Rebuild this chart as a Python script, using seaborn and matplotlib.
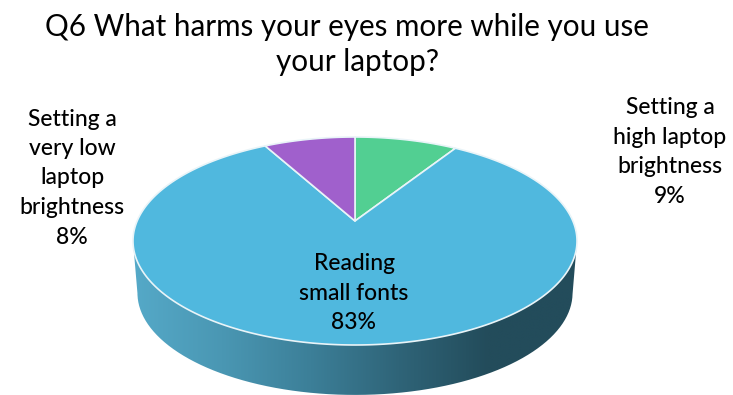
import numpy as np
import matplotlib
matplotlib.use("Agg")
import matplotlib.pyplot as plt
from matplotlib.patches import Polygon, PathPatch
from matplotlib.path import Path
import seaborn as sns

# Survey shares, clockwise from twelve o'clock
categories = ["Setting a\nhigh laptop\nbrightness", "Reading\nsmall fonts", "Setting a\nvery low\nlaptop\nbrightness"]
shares = [9, 83, 8]
wedge_colors = ["#52CF92", "#50B8DE", "#A060CC"]
title_lines = ["Q6 What harms your eyes more while you use", "your laptop?"]

sns.set_theme(style="white")
plt.rcParams["font.family"] = ["Lato", "DejaVu Sans"]

W, H = 733, 395
fig = plt.figure(figsize=(W / 100, H / 100), dpi=100, facecolor="white")
ax = fig.add_axes([0, 0, 1, 1])

# Tilted disc: perspective projection of the unit circle, pixel-based canvas
cx, cy = 355.0, 221.0
top_r, bottom_r, half_w = 84.0, 124.0, 222.0
k = (bottom_r - top_r) / (bottom_r + top_r)
a = top_r * (1 + k)
b = half_w * np.sqrt(1 - k * k)
depth = 52.0
shrink = 0.98


def project(theta):
    """Map clockwise-from-top angles on the disc to canvas coordinates."""
    u, v = np.sin(theta), np.cos(theta)
    d = 1 + k * v
    return cx + b * u / d, cy - a * v / d


# Side wall: front half of the rim swept down to a slightly narrower lower rim
t = np.linspace(0, 2 * np.pi, 720)
x_rim, y_rim = project(t)
centre_x = x_rim.mean()
ell_cy = 0.5 * (y_rim.min() + y_rim.max())
x_low = centre_x + (x_rim - centre_x) * shrink
y_low = ell_cy + (y_rim - ell_cy) * shrink + depth
front = y_rim >= ell_cy - 1
order = np.argsort(x_rim[front])
upper = np.column_stack([x_rim[front][order], y_rim[front][order]])
order2 = np.argsort(-x_low[front])
lower = np.column_stack([x_low[front][order2], y_low[front][order2]])
side_poly = np.vstack([upper, lower, upper[:1]])

wall_cmap = sns.blend_palette(
    ["#55A9C8", "#4A97B3", "#3C7F98", "#2F6478", "#234C5B", "#234C5B"],
    n_colors=256, as_cmap=True,
)
grad = np.linspace(0, 1, 256).reshape(1, -1)
img = ax.imshow(grad, cmap=wall_cmap, aspect="auto",
                extent=[133, 577, H, 200], zorder=1, interpolation="bilinear")
clip = PathPatch(Path(side_poly), transform=ax.transData, facecolor="none", edgecolor="none")
ax.add_patch(clip)
img.set_clip_path(clip)

# Top face, one wedge per share
edges = np.cumsum([0] + shares) / sum(shares) * 2 * np.pi
for start, end, color in zip(edges[:-1], edges[1:], wedge_colors):
    th = np.linspace(start, end, 400)
    xs, ys = project(th)
    pts = np.vstack([[cx, cy], np.column_stack([xs, ys])])
    ax.add_patch(Polygon(pts, closed=True, facecolor=color, edgecolor="#E9F4F8",
                         linewidth=1.2, joinstyle="round", zorder=2))

ax.set_xlim(0, W)
ax.set_ylim(H, 0)
ax.axis("off")

# Title lines are placed one by one; the second sits a little right of the first
for line, (tx, ty) in zip(title_lines, [(347, 27), (357, 62)]):
    ax.text(tx, ty, line, ha="center", va="center", fontsize=21.3, color="black", zorder=3)

label_font = dict(ha="center", va="center", color="black", fontsize=16.5,
                  linespacing=1.5, fontweight="medium", zorder=3)
label_pos = [(670, 152), (354, 293), (72, 178)]
for name, share, (lx, ly) in zip(categories, shares, label_pos):
    ax.text(lx, ly, f"{name}\n{share}%", **label_font)

fig.savefig("out.png", dpi=100, facecolor="white")
